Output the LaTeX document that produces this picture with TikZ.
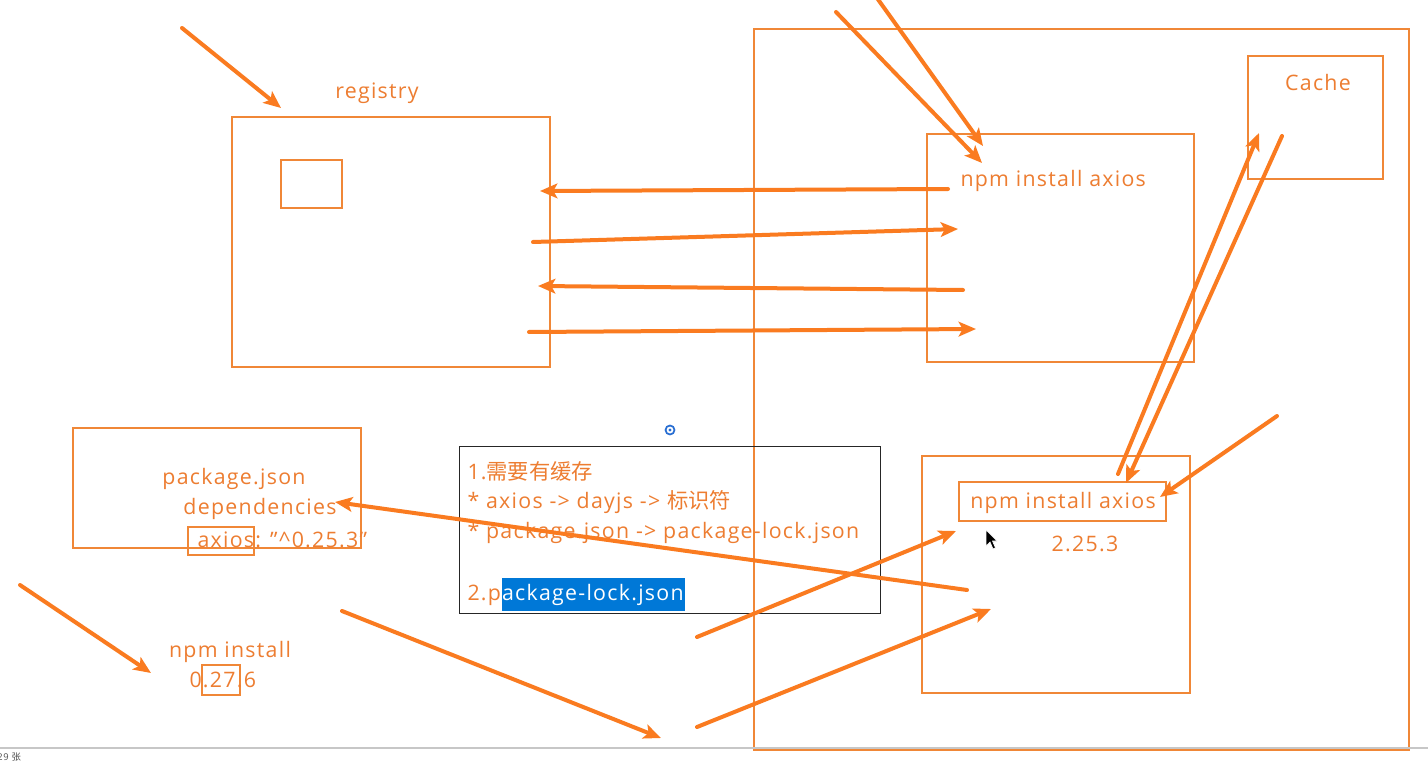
\documentclass[tikz,border=0pt]{standalone}
\usepackage{fontspec}
\setmainfont{Open Sans}[LetterSpace=6]
\newfontfamily\cjk{Noto Sans CJK SC}
\usetikzlibrary{arrows.meta,positioning}

\definecolor{boxc}{RGB}{240,135,55}
\definecolor{arrc}{RGB}{250,123,32}
\definecolor{textc}{RGB}{237,125,49}
\definecolor{selblue}{RGB}{0,120,215}
\definecolor{iconblue}{RGB}{40,110,210}

\tikzset{every picture/.style={line width=0.75pt}}
\tikzset{
  boxline/.style={draw=boxc, line width=1.2pt},
  arr/.style={draw=arrc, line width=3pt, line cap=round, -{Stealth[length=13pt,width=11pt,inset=3pt]}},
  lbl/.style={text=textc, inner sep=0pt, font=\fontsize{16}{19}\selectfont},
}

\begin{document}
\begin{tikzpicture}[x=0.75pt,y=0.75pt,yscale=-1,xscale=1]
\fill[white] (0,0) rectangle (1428,763);
\path[use as bounding box] (0,0) rectangle (1428,763);

%Shape: Rectangle (registry)
\draw [boxline] (232,117) rectangle (550,367) ;
%Shape: Rectangle (inside registry)
\draw [boxline] (281,160) rectangle (342,208) ;
%Shape: Rectangle (local machine)
\draw [boxline] (754,29) rectangle (1409,750) ;
%Shape: Rectangle (cache)
\draw [boxline] (1248,56) rectangle (1383,179) ;
%Shape: Rectangle (first install)
\draw [boxline] (927,134) rectangle (1194,362) ;
%Shape: Rectangle (second install)
\draw [boxline] (922,456) rectangle (1190,693) ;
\draw [boxline] (959,482) rectangle (1166,521) ;
%Shape: Rectangle (package.json)
\draw [boxline] (73,428) rectangle (361,548) ;
\draw [boxline] (188,527) rectangle (254,555) ;
\draw [boxline] (202,665) rectangle (240,695) ;
%Shape: Rectangle (note)
\draw [black!85, line width=0.75pt] (459,446) rectangle (880,613) ;

% Text Node
\draw (377,99) node (registrylbl) [lbl, anchor=base] {registry};
% Text Node
\draw (1318,91) node (cachelbl) [lbl, anchor=base] {Cache};
% Text Node
\draw (960,187) node (installup) [lbl, anchor=base west] {npm install axios};
% Text Node
\draw (1063,508) node (installdown) [lbl, anchor=base] {npm install axios};
% Text Node
\draw (1085,551) node (verdown) [lbl, anchor=base] {2.25.3};
% Text Node
\draw (234,484) node (pkglbl) [lbl, anchor=base] {package.json};
% Text Node
\draw (260,514) node (depslbl) [lbl, anchor=base] {dependencies};
% Text Node
\draw (197,547) node (axiosdep) [lbl, anchor=base west] {axios: \symbol{"22}\textasciicircum 0.25.3\symbol{"22}};
% Text Node
\draw (230,657) node (npmlbl) [lbl, anchor=base] {npm install};
% Text Node
\draw (189,687) node (verlbl) [lbl, anchor=base west] {0.27.6};

% Text Node
\draw (467,479) node (note1) [lbl, anchor=base west] {1.{\cjk 需要有缓存}};
% Text Node
\draw (467,508) node (note2) [lbl, anchor=base west] {* axios -> dayjs -> {\cjk 标识符}};
% Text Node
\draw (467,538) node (note3) [lbl, anchor=base west] {* package.json -> package-lock.json};
% Text Node
\draw (467,600) node (note4) [lbl, anchor=base west] {2.p};
\node (note4sel) [lbl, anchor=base west, fill=selblue, text=white, inner ysep=4.5pt, inner xsep=0pt] at (note4.base east) {ackage-lock.json\kern1pt};

%Shape: busy icon
\draw [iconblue, line width=1.3pt] (670,430) circle [radius=4.5] ;
\fill [iconblue] (670,430) circle [radius=1.6] ;
%Shape: mouse pointer
\draw [fill=black, draw=white, line width=0.5pt] (986,530) -- (986,546) -- (990,542) -- (993,549) -- (995.5,548) -- (992.5,541) -- (997,541) -- cycle ;

%Straight Lines (status bar)
\draw [black!22, line width=1pt] (0,748) -- (1428,748) ;
\draw (-3,757) node (pagecount) [anchor=west, inner sep=0pt, text=black!70, font=\fontsize{7}{8}\selectfont] {29 {\cjk 张}};

% arrow ends
\coordinate (regs) at (182,28);      \coordinate (rege) at (281,108);
\coordinate (topAs) at (877,-2);     \coordinate (topAe) at (983,146);
\coordinate (topBs) at (836,12);     \coordinate (topBe) at (982,163);
\coordinate (req1s) at (948,189);    \coordinate (req1e) at (540,191);
\coordinate (res1s) at (533,242);    \coordinate (res1e) at (958,229);
\coordinate (req2s) at (963,290);    \coordinate (req2e) at (538,286);
\coordinate (res2s) at (529,332);    \coordinate (res2e) at (976,329);
\coordinate (cacheups) at (1118,474);  \coordinate (cacheupe) at (1259,133);
\coordinate (cachedns) at (1282,136);  \coordinate (cachedne) at (1126,483);
\coordinate (sides) at (1277,416);   \coordinate (sidee) at (1160,497);
\coordinate (deps) at (967,590);     \coordinate (depe) at (335,502);
\coordinate (lock1s) at (697,637);   \coordinate (lock1e) at (956,531);
\coordinate (lock2s) at (697,727);   \coordinate (lock2e) at (991,609);
\coordinate (downs) at (342,611);    \coordinate (downe) at (661,738);
\coordinate (npms) at (20,585);      \coordinate (npme) at (151,673);

%Straight Lines
\draw [arr] (regs) -- (rege) ;
\draw [arr] (topAs) -- (topAe) ;
\draw [arr] (topBs) -- (topBe) ;
\draw [arr] (req1s) -- (req1e) ;
\draw [arr] (res1s) -- (res1e) ;
\draw [arr] (req2s) -- (req2e) ;
\draw [arr] (res2s) -- (res2e) ;
\draw [arr] (cacheups) -- (cacheupe) ;
\draw [arr] (cachedns) -- (cachedne) ;
\draw [arr] (sides) -- (sidee) ;
\draw [arr] (deps) -- (depe) ;
\draw [arr] (lock1s) -- (lock1e) ;
\draw [arr] (lock2s) -- (lock2e) ;
\draw [arr] (downs) -- (downe) ;
\draw [arr] (npms) -- (npme) ;

\end{tikzpicture}
\end{document}
